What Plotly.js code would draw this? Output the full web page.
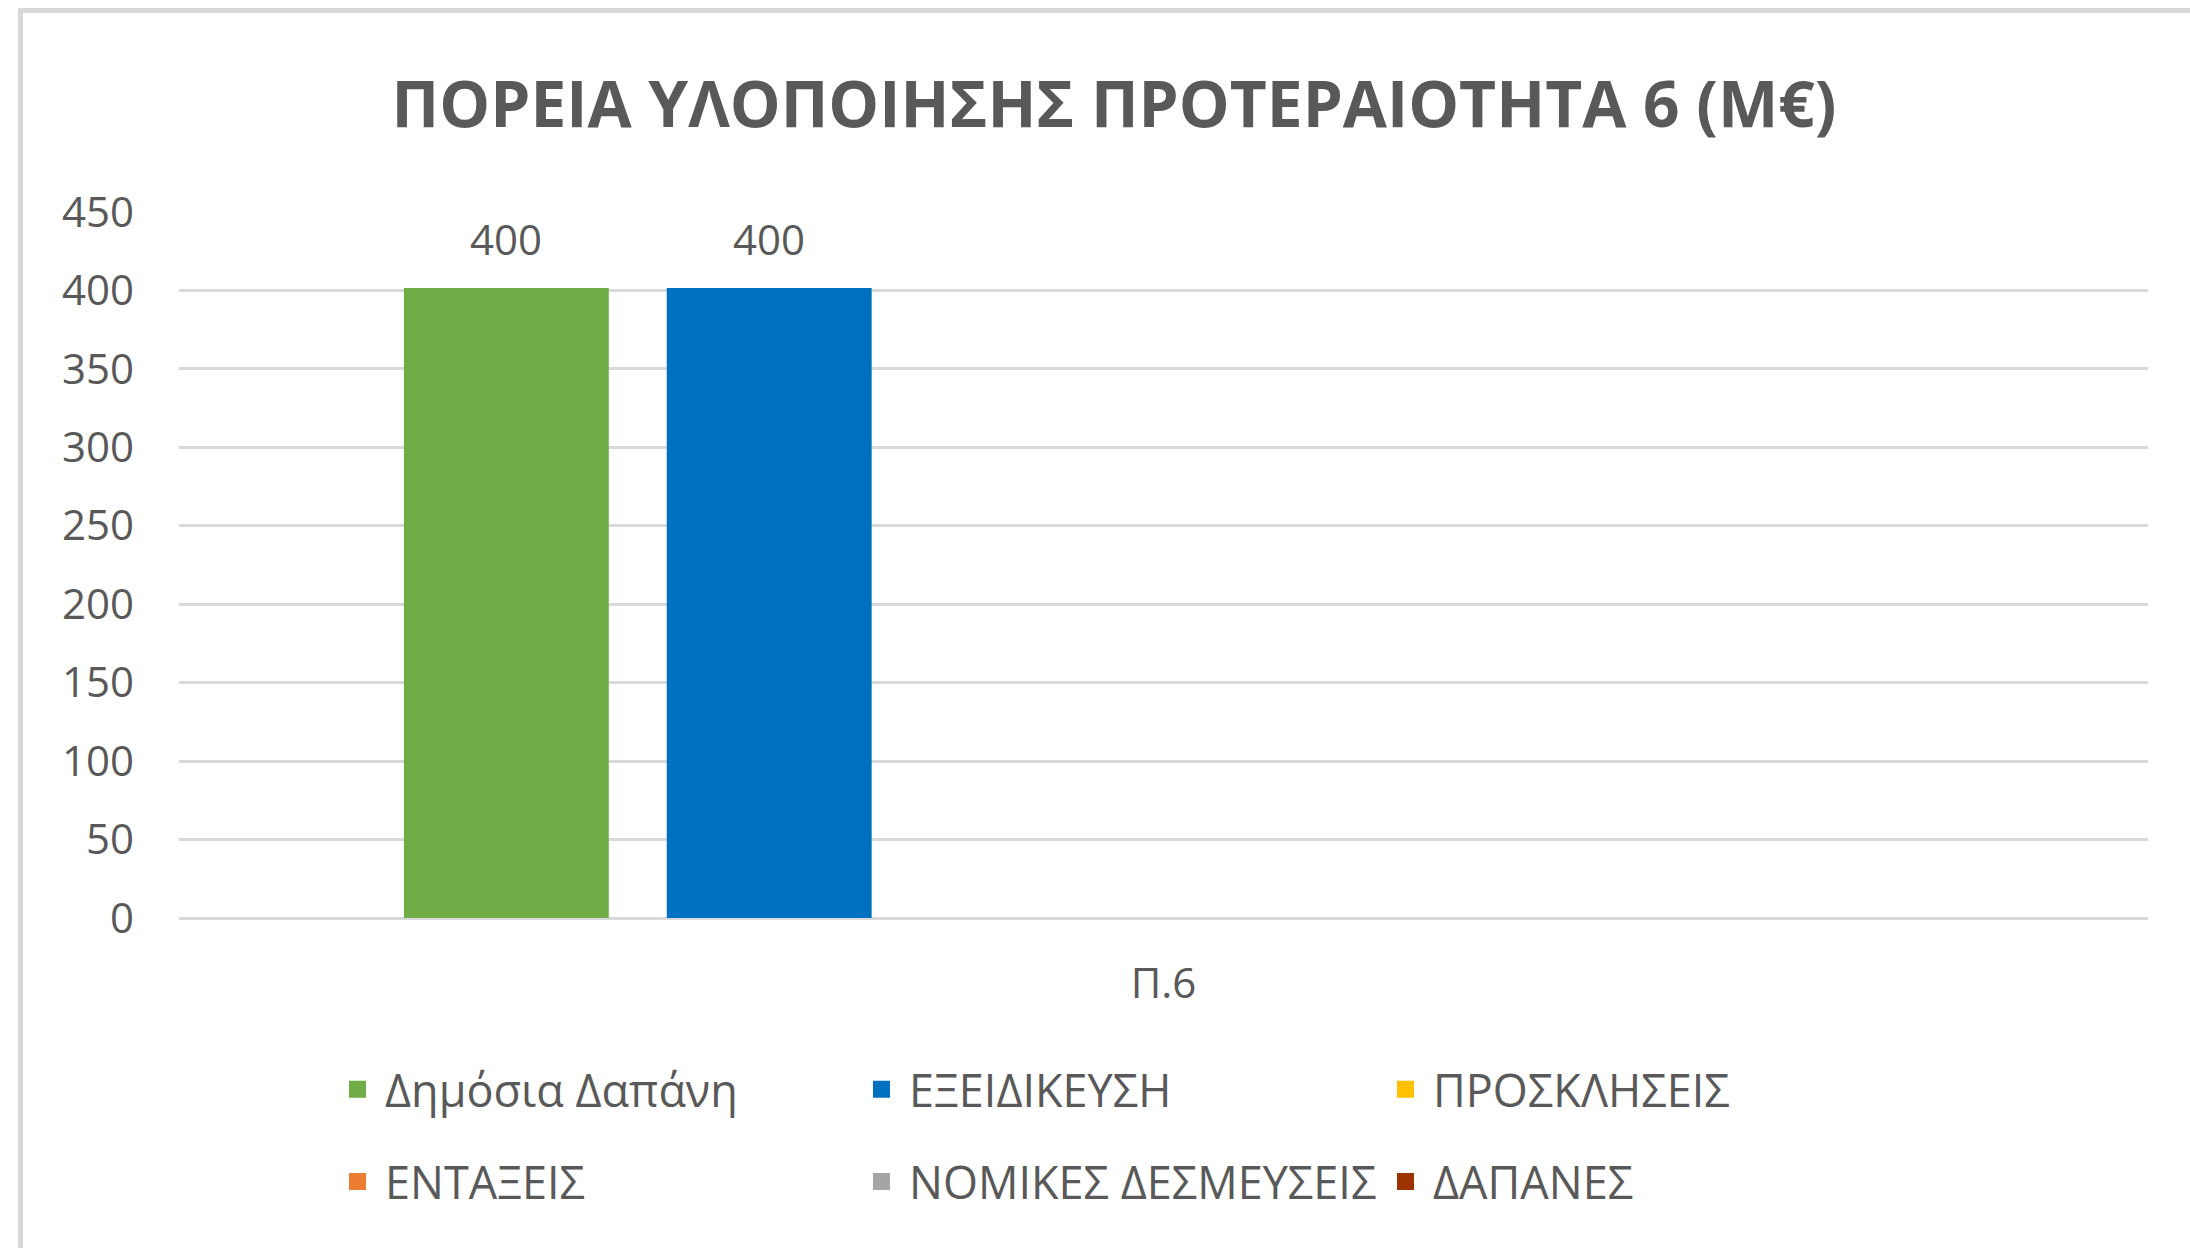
<!DOCTYPE html>
<html>
<head>
<meta charset="utf-8">
<script src="https://cdn.plot.ly/plotly-3.0.1.min.js"></script>
<style>
html,body{margin:0;padding:0;background:#fff;}
#chart{width:2190px;height:1248px;}
</style>
</head>
<body>
<div id="chart"></div>
<script>
// ---- data ----
const categories = ['Π.6'];
const seriesNames = ['Δημόσια Δαπάνη', 'ΕΞΕΙΔΙΚΕΥΣΗ', 'ΠΡΟΣΚΛΗΣΕΙΣ', 'ΕΝΤΑΞΕΙΣ', 'ΝΟΜΙΚΕΣ ΔΕΣΜΕΥΣΕΙΣ', 'ΔΑΠΑΝΕΣ'];
const dimosiaDapani = [400];
const exeidikeusi = [400];
const prosklhseis = [null];
const entaxeis = [null];
const nomikesDesmeuseis = [null];
const dapanes = [null];
const seriesValues = [dimosiaDapani, exeidikeusi, prosklhseis, entaxeis, nomikesDesmeuseis, dapanes];
const yTickVals = [0, 50, 100, 150, 200, 250, 300, 350, 400, 450];
const chartTitle = 'ΠΟΡΕΙΑ ΥΛΟΠΟΙΗΣΗΣ ΠΡΟΤΕΡΑΙΟΤΗΤΑ 6 (Μ€)';

// ---- style ----
const colors = ['#70AD47', '#0070C0', '#FFC000', '#ED7D31', '#A5A5A5', '#9C3300'];
const FONT = 'Open Sans, Noto Sans, sans-serif';
const TXT = '#595959';
const BARGAP = 0.199;
const BARGROUPGAP = 0.2395;

const traces = seriesNames.map((name, i) => ({
  type: 'bar',
  name: name,
  x: categories,
  y: seriesValues[i],
  marker: {color: colors[i], line: {color: colors[i], width: 5}},
  legend: i < 3 ? 'legend' : 'legend2',
  hoverinfo: 'x+y+name'
}));

// data labels placed over each bar through the axis scale
const n = seriesNames.length;
const slot = (1 - BARGAP) / n;
const annotations = [];
seriesValues.forEach((vals, i) => {
  vals.forEach((v, j) => {
    if (v === null || v === undefined) return;
    annotations.push({
      xref: 'x', yref: 'y',
      x: j + (i - (n - 1) / 2) * slot,
      y: v,
      text: String(v),
      showarrow: false,
      yanchor: 'middle',
      yshift: 52,
      font: {family: FONT, size: 42, color: TXT}
    });
  });
});

const legendBase = {
  orientation: 'h',
  xref: 'paper', yref: 'paper',
  x: 0.0767, xanchor: 'left',
  yanchor: 'middle',
  entrywidth: 464,
  entrywidthmode: 'pixels',
  itemwidth: 45,
  traceorder: 'normal',
  font: {family: FONT, size: 45, color: TXT},
  bgcolor: 'rgba(0,0,0,0)'
};

const layout = {
  width: 2190,
  height: 1248,
  paper_bgcolor: '#ffffff',
  plot_bgcolor: '#ffffff',
  margin: {l: 179, r: 42, t: 212, b: 330},
  barmode: 'group',
  bargap: BARGAP,
  bargroupgap: BARGROUPGAP,
  font: {family: FONT, color: TXT},
  title: {
    text: chartTitle,
    font: {family: FONT, size: 64, color: TXT, weight: 'bold'},
    xref: 'container', yref: 'container',
    x: 0.5087, xanchor: 'center',
    y: 0.9159, yanchor: 'middle'
  },
  xaxis: {
    type: 'category',
    showgrid: false,
    showline: false,
    zeroline: false,
    ticks: '',
    ticklabelstandoff: 37,
    tickfont: {family: FONT, size: 42, color: TXT},
    fixedrange: true
  },
  yaxis: {
    range: [0, 450],
    tickvals: yTickVals,
    showgrid: true,
    gridcolor: '#D9D9D9',
    gridwidth: 3,
    zeroline: true,
    zerolinecolor: '#D9D9D9',
    zerolinewidth: 3,
    showline: false,
    ticks: '',
    ticklabelstandoff: 44,
    tickfont: {family: FONT, size: 42, color: TXT},
    fixedrange: true
  },
  legend: Object.assign({}, legendBase, {y: -0.243}),
  legend2: Object.assign({}, legendBase, {y: -0.3735}),
  annotations: annotations,
  shapes: [{
    type: 'rect', xref: 'paper', yref: 'paper', layer: 'below',
    x0: -0.0805, x1: 1.06, y0: -0.55, y1: 1.2854,
    line: {color: '#D9D9D9', width: 5},
    fillcolor: 'rgba(0,0,0,0)'
  }]
};

Plotly.newPlot('chart', traces, layout, {displayModeBar: false, staticPlot: true});
</script>
</body>
</html>
